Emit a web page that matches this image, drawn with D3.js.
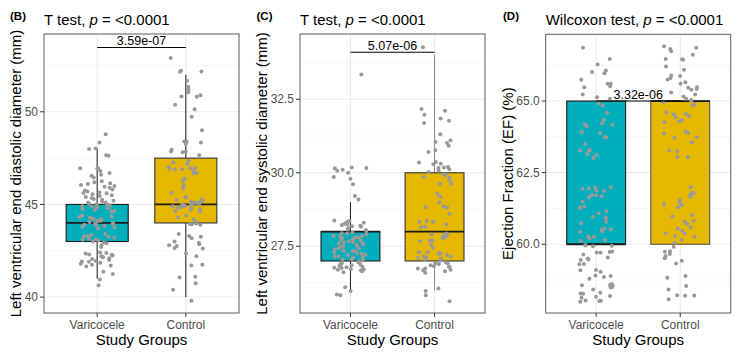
<!DOCTYPE html>
<html>
<head>
  <meta charset="utf-8">
  <title>Echo parameters by study group</title>
  <style>
    body { margin: 0; background: #fff; }
    svg text { font-family: "Liberation Sans", Arial, Helvetica, sans-serif; }
  </style>
</head>
<body>
  <svg id="chart" width="740" height="353"></svg>

  <script src="https://d3js.org/d3.v7.min.js"></script>
  <script>
    // groups and colours
    const categories = ["Varicocele", "Control"];
    const fills = ["#00AFBB", "#E7B800"];

    // LVEDD (mm), points as shown in the figure
    const lveddVaricocele = [48.79, 48.35, 48.02, 47.99, 47.63, 47.66, 46.94, 46.95, 46.93, 46.96,
      46.8, 46.6, 46.45, 46.7, 46.55, 46.2, 46.1, 46.0, 45.95, 46.15, 45.9, 46.05, 46.25,
      45.8, 45.7, 45.6, 45.75, 45.5, 45.4, 45.35, 45.65, 45.55, 45.3, 45.45, 45.62,
      45.25, 45.2, 45.1, 45.05, 45.0, 44.95, 45.15, 44.9, 44.85, 44.8, 45.1, 44.75, 44.7, 44.65, 44.6, 44.98, 44.9, 45.03,
      44.4, 44.35, 44.3, 44.25, 44.2, 44.15, 44.1, 44.05, 44.0, 43.95, 43.9, 43.85, 43.8, 43.75, 43.7, 44.22, 44.12, 43.98, 43.88, 44.32,
      43.4, 43.35, 43.3, 43.25, 43.2, 43.15, 43.1, 43.05, 43.0, 42.95, 42.9, 42.8, 42.7, 43.28, 43.12,
      42.4, 42.35, 42.3, 42.25, 42.2, 42.15, 42.1, 42.05, 42.0, 41.95, 41.9, 41.85, 41.8, 41.75, 41.7, 41.65, 42.28, 42.18, 42.38, 41.92,
      41.36, 41.24, 40.95, 40.64];
    const lveddControl = [52.9, 52.21, 52.16, 52.18, 51.67, 51.35, 51.1, 51.22, 51.04, 50.83, 50.9, 50.81, 50.38, 50.14, 49.73, 49.01,
      48.4, 48.35, 48.26, 48.38, 47.86, 47.95, 47.86, 47.82, 47.66,
      47.36, 47.27, 47.18, 46.98, 47.02, 46.95, 46.92, 46.9, 46.88,
      46.85, 46.67, 46.7, 46.4, 46.04, 45.86, 46.28, 45.63, 45.41, 45.38, 45.27,
      45.25, 45.2, 45.15, 45.1, 45.05, 45.0, 44.95, 44.9, 44.85, 44.8, 44.75, 44.7, 44.65, 44.6, 45.12, 45.02, 44.92, 44.82, 45.08, 44.98,
      44.4, 44.3, 44.2, 44.05,
      43.95, 43.93, 43.97, 43.9, 43.4, 43.25, 43.17, 43.0, 43.3, 42.85, 42.75, 42.93, 42.65, 42.8, 42.62,
      42.2, 42.35, 41.7, 41.75, 41.06, 41.1, 40.75, 40.4, 39.8];

    // LVESD (mm)
    const lvesdVaricocele = [33.34, 30.18, 30.15, 30.07, 30.1, 30.16, 30.0, 29.86, 29.8, 29.61, 29.09, 29.21,
      28.38, 28.33, 28.28, 28.22, 28.35, 28.27, 28.3, 28.16, 28.1, 28.05, 28.07, 28.2, 28.12, 28.02, 28.25, 28.18,
      27.98, 27.94, 27.93, 27.9, 27.86, 27.85, 27.81, 27.8, 27.78, 27.74, 27.72, 27.7, 27.66, 27.65, 27.63, 27.6, 27.56, 27.55,
      27.51, 27.5, 27.48, 27.44, 27.42, 27.4, 27.36, 27.35, 27.33, 27.3, 27.26, 27.25, 27.22, 27.2, 27.18, 27.15, 27.12, 27.1,
      27.06, 27.05, 27.02, 27.84, 27.61, 27.34, 27.16, 27.73,
      26.98, 26.96, 26.92, 26.9, 26.88, 26.85, 26.83, 26.8, 26.77, 26.76, 26.72, 26.7, 26.68, 26.65, 26.62, 26.87, 26.79, 26.71,
      25.98, 26.11, 25.86, 25.83];
    const lvesdControl = [34.27, 32.17, 32.11, 31.97, 31.69, 31.85, 31.77, 31.31, 31.11, 31.01, 31.05, 30.92, 30.77, 30.71,
      30.31, 30.37, 30.29, 30.35, 30.2, 30.12, 30.16, 30.18, 30.07,
      29.95, 29.92, 30.03, 29.86, 29.84, 29.63, 29.63, 29.75, 29.29, 29.18, 28.99, 28.82, 28.85, 28.82, 28.61,
      28.36, 28.33, 28.25, 28.33, 28.14, 28.16,
      27.9, 27.76, 27.67, 27.7, 27.93, 27.82, 27.7, 27.84, 27.9, 27.55, 27.45,
      27.3, 27.25, 27.25, 27.3, 27.11, 27.05, 27.11, 27.16, 27.08, 27.2, 27.02, 27.14,
      26.8, 26.82, 26.9, 26.92, 26.74, 26.68, 26.85, 26.92, 26.74, 26.8, 26.65, 26.7, 26.95, 26.6,
      25.98, 26.06, 25.83, 25.63];

    // Ejection fraction (%)
    const efVaricocele = [66.86, 66.47, 66.28, 66.07, 66.01, 65.97, 65.74, 65.6, 65.6, 65.48, 65.52, 65.23, 65.13, 65.08,
      64.92, 64.84, 64.59, 64.34, 64.17, 64.12, 64.22, 64.18, 63.93, 63.88, 63.74, 63.74, 63.5, 63.29, 63.27, 63.27, 63.15, 63.12, 63.01,
      61.87, 61.86, 61.95, 61.99, 61.94, 61.98, 61.72, 61.71, 61.68, 61.49, 61.64, 61.33, 61.25, 61.28, 61.08, 60.96, 61.14, 60.93, 60.9,
      60.73, 60.79, 60.52, 60.44, 60.55, 60.5, 60.45, 60.26, 60.2, 60.27, 60.15, 60.12,
      59.96, 59.95, 59.93, 59.97, 59.75, 59.7, 59.73, 59.71, 59.64, 59.54, 59.47, 59.5, 59.45, 59.31, 59.3,
      59.1, 59.09, 59.04, 58.86, 58.91, 58.89, 58.8, 58.57, 58.51, 58.58, 58.61, 58.56, 58.49, 58.42,
      58.28, 58.27, 58.31, 58.17, 58.13, 58.19, 58.03, 57.99, 58.02, 58.04];
    const efControl = [66.86, 66.82, 66.74, 66.91, 66.47, 66.44, 66.62, 66.46, 66.21, 66.09, 65.89, 65.87, 65.75, 65.8,
      65.66, 65.6, 65.48, 65.46, 65.39, 65.42, 65.3, 65.16, 65.23, 65.08, 65.02, 64.96, 64.9, 64.84, 65.03,
      64.55, 64.43, 64.29, 64.54, 64.49, 64.61, 64.34, 64.26, 63.88, 63.93, 63.87, 63.74, 63.72, 63.56, 63.55, 63.27, 63.25, 63.04, 63.05,
      61.99, 61.8, 61.78, 61.72, 61.66, 61.54, 61.45, 61.37, 61.29, 61.39, 61.02, 60.97, 60.79, 60.82, 60.71, 60.55, 60.47, 60.59,
      60.38, 60.26, 60.15, 60.29, 60.37, 60.05,
      59.76, 59.74, 59.91, 59.59, 59.66, 59.51, 59.42, 59.33, 58.83, 58.89, 58.54, 58.42, 58.2, 58.21, 58.22, 58.08];

    // box statistics per group: [whiskerLow, q1, median, q3, whiskerHigh]
    const lveddBoxes = [[41, 43, 44, 45, 48], [40, 44, 45, 47.5, 52]];
    const lvesdBoxes = [[26, 27, 28, 28, 29], [26, 27, 28, 30, 34]];
    const efBoxes = [[null, 60, 60, 65, null], [null, 60, 65, 65, null]];

    // tick values
    const lveddTicks = [40, 45, 50];
    const lvesdTicks = [27.5, 30.0, 32.5];
    const efTicks = [60.0, 62.5, 65.0];

    const svg = d3.select("#chart");

    // fixed horizontal jitter (same role as geom_jitter width = 0.2)
    function jitter(i, g) {
      const s = Math.sin((i + 1) * 12.9898 + (g + 1) * 78.233) * 43758.5453;
      return (s - Math.floor(s)) * 2 - 1;
    }

    function drawPanel(p) {
      const g = svg.append("g");
      const y = d3.scaleLinear().domain(p.yDomain).range([p.bottom, p.top]);
      const x = d3.scalePoint().domain(categories).range([p.left, p.right]).padding(0.6);
      const step = x.step();

      // grid: minor then major
      const minor = [];
      for (let i = 0; i < p.ticks.length - 1; i++) minor.push((p.ticks[i] + p.ticks[i + 1]) / 2);
      minor.push(p.ticks[0] - (p.ticks[1] - p.ticks[0]) / 2);
      minor.push(p.ticks[p.ticks.length - 1] + (p.ticks[1] - p.ticks[0]) / 2);
      g.selectAll(".minor").data(minor.filter(v => v > p.yDomain[0] && v < p.yDomain[1]))
        .enter().append("line")
        .attr("x1", p.left).attr("x2", p.right)
        .attr("y1", d => y(d)).attr("y2", d => y(d))
        .attr("stroke", "#F2F2F2").attr("stroke-width", 0.6);
      g.selectAll(".major").data(p.ticks).enter().append("line")
        .attr("x1", p.left).attr("x2", p.right)
        .attr("y1", d => y(d)).attr("y2", d => y(d))
        .attr("stroke", "#EBEBEB").attr("stroke-width", 1.1);
      g.selectAll(".vmajor").data(categories).enter().append("line")
        .attr("x1", d => x(d)).attr("x2", d => x(d))
        .attr("y1", p.top).attr("y2", p.bottom)
        .attr("stroke", "#EBEBEB").attr("stroke-width", 1.1);

      // boxes
      const half = step * 0.35;
      p.boxes.forEach((b, i) => {
        const cx = x(categories[i]);
        const edge = p.edges[i];
        if (b[0] != null) {
          g.append("line").attr("x1", cx).attr("x2", cx)
            .attr("y1", y(b[0])).attr("y2", y(b[1]))
            .attr("stroke", p.whisk[i]).attr("stroke-width", 1);
          g.append("line").attr("x1", cx).attr("x2", cx)
            .attr("y1", y(b[3])).attr("y2", y(b[4]))
            .attr("stroke", p.whisk[i]).attr("stroke-width", 1);
        }
        g.append("rect")
          .attr("x", cx - half).attr("width", half * 2)
          .attr("y", y(b[3])).attr("height", y(b[1]) - y(b[3]))
          .attr("fill", fills[i]).attr("stroke", edge).attr("stroke-width", 1.1);
        g.append("line").attr("x1", cx - half).attr("x2", cx + half)
          .attr("y1", y(b[2])).attr("y2", y(b[2]))
          .attr("stroke", "#1a1a1a").attr("stroke-width", 1.8);
      });

      // jittered points
      p.series.forEach((vals, gi) => {
        const cx = x(categories[gi]);
        g.selectAll(".pt" + gi).data(vals).enter().append("circle")
          .attr("cx", (d, i) => cx + jitter(i, gi + p.seed) * step * 0.2)
          .attr("cy", d => y(d))
          .attr("r", 2)
          .attr("fill", "#999999");
      });

      // comparison bracket
      const by = y(p.bracket.y);
      g.append("line")
        .attr("x1", x(categories[0])).attr("x2", x(categories[1]))
        .attr("y1", by).attr("y2", by)
        .attr("stroke", "#000").attr("stroke-width", 1.1);
      g.append("text")
        .attr("x", (x(categories[0]) + x(categories[1])) / 2)
        .attr("y", by - 2.5)
        .attr("text-anchor", "middle")
        .attr("font-size", 12.5)
        .attr("fill", "#000")
        .text(p.bracket.label);

      // border
      g.append("rect")
        .attr("x", p.left).attr("y", p.top)
        .attr("width", p.right - p.left).attr("height", p.bottom - p.top)
        .attr("fill", "none").attr("stroke", "#5a5a5a").attr("stroke-width", 1);

      // y axis
      g.selectAll(".yt").data(p.ticks).enter().append("line")
        .attr("x1", p.left - 4).attr("x2", p.left)
        .attr("y1", d => y(d)).attr("y2", d => y(d))
        .attr("stroke", "#333").attr("stroke-width", 1);
      g.selectAll(".yl").data(p.ticks).enter().append("text")
        .attr("x", p.left - 6).attr("y", d => y(d))
        .attr("dy", "0.35em")
        .attr("text-anchor", "end")
        .attr("font-size", 12).attr("fill", "#4D4D4D")
        .text(d => p.fmt(d));

      // x axis
      g.selectAll(".xt").data(categories).enter().append("line")
        .attr("x1", d => x(d)).attr("x2", d => x(d))
        .attr("y1", p.bottom).attr("y2", p.bottom + 4)
        .attr("stroke", "#333").attr("stroke-width", 1);
      g.selectAll(".xl").data(categories).enter().append("text")
        .attr("x", d => x(d)).attr("y", 329)
        .attr("text-anchor", "middle")
        .attr("font-size", 12).attr("fill", "#4D4D4D")
        .text(d => d);

      g.append("text")
        .attr("x", (p.left + p.right) / 2).attr("y", 344.5)
        .attr("text-anchor", "middle").attr("font-size", 15)
        .text("Study Groups");

      g.append("text")
        .attr("transform", `translate(${p.yTitleX},${(p.top + p.bottom) / 2}) rotate(-90)`)
        .attr("text-anchor", "middle").attr("font-size", 15)
        .text(p.yTitle);

      // tag and title
      g.append("text")
        .attr("x", p.tagX).attr("y", 19.5)
        .attr("font-size", 11.5).attr("font-weight", "bold")
        .text(p.tag);
      const t = g.append("text")
        .attr("x", p.left).attr("y", 24.5)
        .attr("font-size", 15);
      t.append("tspan").text(p.test + ", ");
      t.append("tspan").attr("font-style", "italic").text("p");
      t.append("tspan").text(" = <0.0001");
    }

    drawPanel({
      left: 44, right: 239, top: 34, bottom: 313,
      yDomain: [39.14, 54.2], ticks: lveddTicks, fmt: d3.format("d"),
      boxes: lveddBoxes, series: [lveddVaricocele, lveddControl],
      edges: ["#1a1a1a", "#333333"], whisk: ["#1a1a1a", "#1a1a1a"], seed: 0,
      bracket: { y: 53.47, label: "3.59e-07" },
      yTitle: "Left ventricular end diastolic diameter (mm)", yTitleX: 21,
      tag: "(B)", tagX: 10, test: "T test"
    });

    drawPanel({
      left: 300, right: 485, top: 34, bottom: 313,
      yDomain: [25.23, 34.72], ticks: lvesdTicks, fmt: d3.format(".1f"),
      boxes: lvesdBoxes, series: [lvesdVaricocele, lvesdControl],
      edges: ["#1a1a1a", "#333333"], whisk: ["#1a1a1a", "#888888"], seed: 3,
      bracket: { y: 34.1, label: "5.07e-06" },
      yTitle: "Left ventricular end systolic diameter (mm)", yTitleX: 267,
      tag: "(C)", tagX: 256.5, test: "T test"
    });

    drawPanel({
      left: 545.7, right: 730.7, top: 34.3, bottom: 313,
      yDomain: [57.6, 67.33], ticks: efTicks, fmt: d3.format(".1f"),
      boxes: efBoxes, series: [efVaricocele, efControl],
      edges: ["#1a1a1a", "#555555"], whisk: ["#1a1a1a", "#555555"], seed: 6,
      bracket: { y: 65.0, label: "3.32e-06" },
      yTitle: "Ejection Fraction (EF) (%)", yTitleX: 512.5,
      tag: "(D)", tagX: 503, test: "Wilcoxon test"
    });
  </script>
</body>
</html>
